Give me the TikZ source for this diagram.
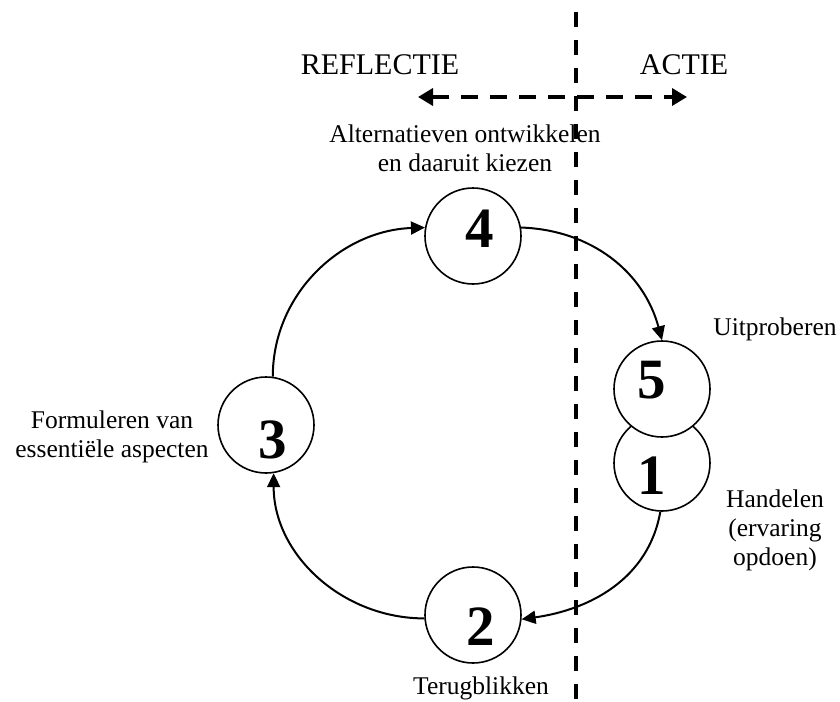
\documentclass[tikz,border=0pt]{standalone}
\usepackage{fontspec}
\setmainfont{Liberation Serif}
\usepackage{tikz}
\usetikzlibrary{arrows.meta}

\begin{document}
\begin{tikzpicture}[x=1pt,y=-1pt,
    stage/.style={circle,draw,line width=1.6pt,minimum size=96pt,inner sep=0pt,fill=white},
    num/.style={font=\fontsize{57}{57}\selectfont\bfseries,inner sep=0pt},
    txt/.style={font=\fontsize{25.5}{29}\selectfont,align=center,inner sep=0pt},
    head/.style={font=\fontsize{30}{34}\selectfont,inner sep=0pt},
    link/.style={line width=2pt,-{Triangle[length=14pt,width=13pt]}},
    divider/.style={line width=3.5pt,dash pattern=on 15pt off 13pt},
    sides/.style={line width=3.5pt,dash pattern=on 17pt off 12pt,
        {Triangle[length=15pt,width=17pt]}-{Triangle[length=15pt,width=17pt]}}]
    \useasboundingbox (0,0) rectangle (840,701);

    \node[stage] (c1) at (662,463) {};
    \node[stage] (c5) at (662,389) {};
    \node[stage] (c4) at (473,236) {};
    \node[stage] (c3) at (266,425) {};
    \node[stage] (c2) at (473,615) {};

    \node[num] (n1) at (652,476) {1};
    \node[num] (n2) at (481,627) {2};
    \node[num] (n3) at (273,440) {3};
    \node[num] (n4) at (480,229) {4};
    \node[num] (n5) at (652,380) {5};

    \draw[link] (c3.82) to[out=90,in=182] (c4.170);
    \draw[link] (c4.10) to[out=-2,in=105] (c5.north);
    \draw[link] (c1.268) to[out=-100,in=8] (c2.355);
    \draw[link] (c2.184) to[out=180,in=-90] (c3.279);

    \coordinate (top) at (576,12);
    \coordinate (bot) at (576,701);
    \coordinate (refl) at (418,97);
    \coordinate (act) at (687,97);
    \draw[divider] (top) -- (bot);
    \draw[sides] (refl) -- (act);

    \node[head] (reflectie) at (380,65) {REFLECTIE};
    \node[head] (actie) at (684,65) {ACTIE};
    \node[txt] (t4) at (465,148) {Alternatieven ontwikkelen\\en daaruit kiezen};
    \node[txt] (t5) at (775,329) {Uitproberen};
    \node[txt] (t1) at (775,530) {Handelen\\(ervaring\\opdoen)};
    \node[txt] (t3) at (112,437) {Formuleren van\\essentiële aspecten};
    \node[txt] (t2) at (481,688) {Terugblikken};
\end{tikzpicture}
\end{document}
